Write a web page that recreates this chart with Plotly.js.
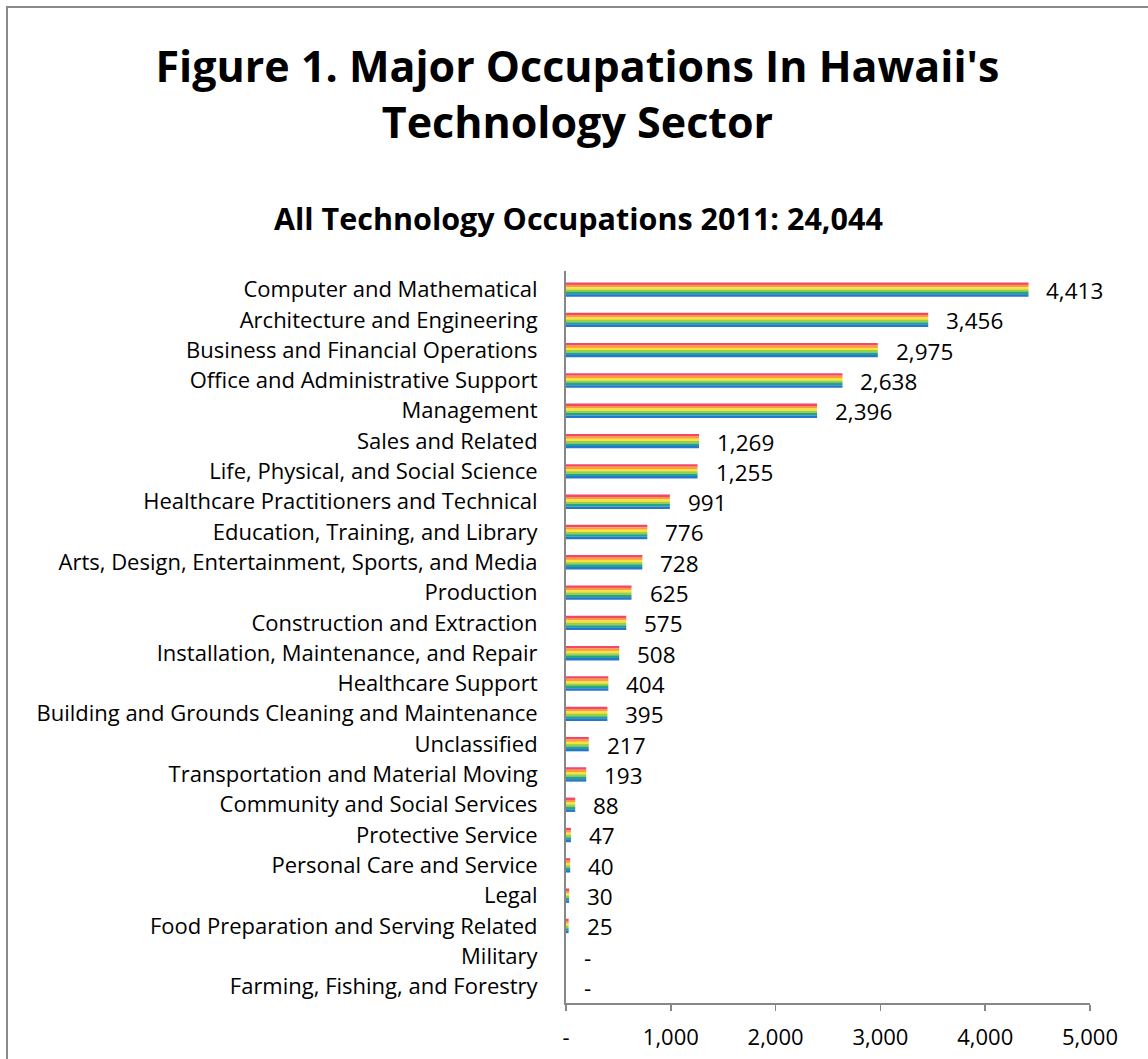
<!DOCTYPE html>
<html>
<head>
<meta charset="utf-8">
<script src="https://cdn.plot.ly/plotly-3.0.1.min.js"></script>
<style>
  html, body { margin: 0; padding: 0; background: #fff; overflow: hidden; }
  #wrap { position: relative; width: 1148px; height: 1059px; }
  #chart { position: absolute; left: 0; top: 0; width: 1148px; height: 1059px; }
  #frame { position: absolute; left: 6px; top: 6px; width: 1200px; height: 1200px;
           border-left: 2px solid #8a8a8a; border-top: 2px solid #8a8a8a; pointer-events: none; }
</style>
</head>
<body>
<div id="wrap">
  <div id="chart"></div>
  <div id="frame"></div>
</div>
<script>
const categories = [
  "Computer and Mathematical",
  "Architecture and Engineering",
  "Business and Financial Operations",
  "Office and Administrative Support",
  "Management",
  "Sales and Related",
  "Life, Physical, and Social Science",
  "Healthcare Practitioners and Technical",
  "Education, Training, and Library",
  "Arts, Design, Entertainment, Sports, and Media",
  "Production",
  "Construction and Extraction",
  "Installation, Maintenance, and Repair",
  "Healthcare Support",
  "Building and Grounds Cleaning and Maintenance",
  "Unclassified",
  "Transportation and Material Moving",
  "Community and Social Services",
  "Protective Service",
  "Personal Care and Service",
  "Legal",
  "Food Preparation and Serving Related",
  "Military",
  "Farming, Fishing, and Forestry"
];
const values = [4413, 3456, 2975, 2638, 2396, 1269, 1255, 991, 776, 728, 625, 575, 508, 404, 395, 217, 193, 88, 47, 40, 30, 25, 0, 0];
const xTickVals = [0, 1000, 2000, 3000, 4000, 5000];
const xTickText = ["-", "1,000", "2,000", "3,000", "4,000", "5,000"];
const stripeColors = ["#f0476a", "#fb9a42", "#f9e23c", "#9acf45", "#22a48c", "#2477cc"];
const subtitleText = "All Technology Occupations 2011: 24,044";

const FONT = "'Open Sans', 'Noto Sans', sans-serif";
const barThickness = 0.47;
const n = stripeColors.length;
const sw = barThickness / n;

const traces = stripeColors.map((c, i) => ({
  type: "bar",
  orientation: "h",
  x: values,
  y: categories,
  width: sw * 1.06,
  offset: -barThickness / 2 + i * sw,
  marker: { color: c, line: { width: 0 } },
  hoverinfo: "skip",
  showlegend: false
}));

const fmt = v => v === 0 ? "-" : v.toLocaleString("en-US");
const annotations = values.map((v, i) => ({
  x: v, y: categories[i], xref: "x", yref: "y",
  text: fmt(v), showarrow: false, xanchor: "left", yanchor: "middle",
  xshift: 16, yshift: -1,
  font: { family: FONT, size: 22.5, color: "#000" }
}));

const plotW = 1148 - 566 - 58, plotH = 1059 - 271 - 56;
annotations.push({
  xref: "paper", yref: "paper",
  x: (578 - 566) / plotW, y: (1059 - 56 - 218) / plotH,
  xanchor: "center", yanchor: "middle",
  text: "<b>" + subtitleText + "</b>", showarrow: false,
  font: { family: FONT, size: 30.5, color: "#000" }
});

const layout = {
  width: 1148, height: 1059,
  margin: { l: 566, r: 58, t: 271, b: 56 },
  paper_bgcolor: "#ffffff",
  plot_bgcolor: "#ffffff",
  barmode: "overlay",
  title: {
    text: "<b>Figure 1. Major Occupations In Hawaii's</b><br><b>Technology Sector</b>",
    font: { family: FONT, size: 43, color: "#000" },
    x: 0.503, xanchor: "center", xref: "container",
    y: 1 - 82 / 1059, yanchor: "top", yref: "container"
  },
  xaxis: {
    range: [0, 5000], tickvals: xTickVals, ticktext: xTickText,
    showgrid: false, zeroline: false,
    showline: true, linecolor: "#878787", linewidth: 2,
    ticks: "outside", ticklen: 6, tickcolor: "#878787", tickwidth: 1.5,
    ticklabelstandoff: 8,
    tickfont: { family: FONT, size: 22, color: "#000" },
    fixedrange: true
  },
  yaxis: {
    type: "category", autorange: "reversed",
    showgrid: false, zeroline: false,
    showline: true, linecolor: "#878787", linewidth: 2,
    ticks: "", ticklabelstandoff: 22,
    tickfont: { family: FONT, size: 22, color: "#000" },
    fixedrange: true
  },
  annotations: annotations
};

Plotly.newPlot("chart", traces, layout, { displayModeBar: false, staticPlot: true });
</script>
</body>
</html>
